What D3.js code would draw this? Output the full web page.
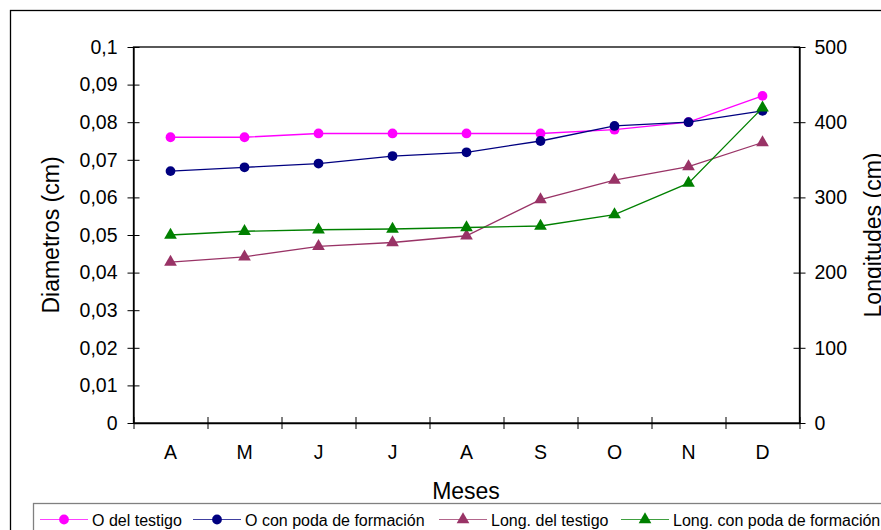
<!DOCTYPE html>
<html>
<head>
<meta charset="utf-8">
<script src="https://cdn.jsdelivr.net/npm/d3@7"></script>
<style>
  body { margin: 0; background: #fff; }
  svg { display: block; font-family: "Liberation Sans", Arial, sans-serif; }
</style>
</head>
<body>
<svg id="chart" width="881" height="530"></svg>
<script>
// Months (April to December)
const months = ["A", "M", "J", "J", "A", "S", "O", "N", "D"];

// Diameters (cm), left axis
const diamTestigo = [0.076, 0.076, 0.077, 0.077, 0.077, 0.077, 0.078, 0.080, 0.087];
const diamPoda    = [0.067, 0.068, 0.069, 0.071, 0.072, 0.075, 0.079, 0.080, 0.083];

// Lengths (cm), right axis
const longTestigo = [214, 221, 235, 240, 249, 297, 323, 341, 373];
const longPoda    = [250, 255, 257, 258, 260, 262, 277, 319, 419];

// Tick values
const diamTicks = [0, 0.01, 0.02, 0.03, 0.04, 0.05, 0.06, 0.07, 0.08, 0.09, 0.1];
const longTicks = [0, 100, 200, 300, 400, 500];

const seriesNames = ["O del testigo", "O con poda de formación", "Long. del testigo", "Long. con poda de formación"];
const seriesColors = ["#FF00FF", "#000080", "#993366", "#008000"];

const svg = d3.select("#chart");
const plot = { left: 133.5, right: 799.5, top: 47, bottom: 423 };

const x = d3.scaleBand().domain(d3.range(months.length)).range([plot.left, plot.right]);
const xEdge = d3.scaleLinear().domain([0, months.length]).range([plot.left, plot.right]);
const yL = d3.scaleLinear().domain([0, 0.1]).range([plot.bottom, plot.top]);
const yR = d3.scaleLinear().domain([0, 500]).range([plot.bottom, plot.top]);

// Outer chart frame
svg.append("rect")
  .attr("x", 10.5).attr("y", 10.5)
  .attr("width", 900).attr("height", 600)
  .attr("fill", "none").attr("stroke", "#000").attr("stroke-width", 1.3);

// Plot frame
svg.append("rect")
  .attr("x", plot.left).attr("y", plot.top)
  .attr("width", plot.right - plot.left).attr("height", plot.bottom - plot.top)
  .attr("fill", "none").attr("stroke", "#000").attr("stroke-width", 1.3);

const fmtComma = d => d3.format(".2~f")(d).replace(".", ",");

// Left axis
const gL = svg.append("g")
  .attr("transform", `translate(${plot.left},0)`)
  .call(d3.axisLeft(yL).tickValues(diamTicks).tickFormat(fmtComma).tickSize(6).tickSizeOuter(0).tickPadding(10));
gL.selectAll(".tick line").attr("x1", 6);

// Right axis
const gR = svg.append("g")
  .attr("transform", `translate(${plot.right},0)`)
  .call(d3.axisRight(yR).tickValues(longTicks).tickSize(6).tickSizeOuter(0).tickPadding(9));
gR.selectAll(".tick line").attr("x1", -6);

// Bottom axis: tick marks at category edges, labels at category centres
const gBt = svg.append("g")
  .attr("transform", `translate(0,${plot.bottom})`)
  .call(d3.axisBottom(xEdge).tickValues(d3.range(months.length + 1)).tickFormat("").tickSize(6).tickSizeOuter(0));
gBt.selectAll(".tick line").attr("y1", -6);

const gB = svg.append("g")
  .attr("transform", `translate(0,${plot.bottom})`)
  .call(d3.axisBottom(x).tickFormat(i => months[i]).tickSize(0).tickPadding(22));
gB.select(".domain").remove();

[gL, gR, gBt, gB].forEach(g => {
  g.selectAll(".domain").attr("stroke", "#000").attr("stroke-width", 1.3);
  g.selectAll(".tick line").attr("stroke", "#000");
  g.selectAll("text").attr("font-size", 19.5).attr("fill", "#000")
    .attr("font-family", "'Liberation Sans', Arial, sans-serif");
});

// Axis titles
svg.append("text")
  .attr("transform", `translate(59,235) rotate(-90)`)
  .attr("text-anchor", "middle").attr("font-size", 23).text("Diametros (cm)");
svg.append("text")
  .attr("transform", `translate(881,235) rotate(-90)`)
  .attr("text-anchor", "middle").attr("font-size", 23).text("Longitudes (cm)");
svg.append("text")
  .attr("x", 466).attr("y", 499)
  .attr("text-anchor", "middle").attr("font-size", 23).text("Meses");

// Series
const series = [
  { values: diamTestigo, y: yL, shape: "circle" },
  { values: diamPoda,    y: yL, shape: "circle" },
  { values: longTestigo, y: yR, shape: "triangle" },
  { values: longPoda,    y: yR, shape: "triangle" }
];

const circleSym = d3.symbol().type(d3.symbolCircle).size(75);
const triSym = d3.symbol().type(d3.symbolTriangle).size(70);

series.forEach((s, k) => {
  const line = d3.line().x((d, i) => x(i) + x.bandwidth() / 2).y(d => s.y(d));
  svg.append("path").datum(s.values)
    .attr("d", line).attr("fill", "none")
    .attr("stroke", seriesColors[k]).attr("stroke-width", 1.3);
  svg.append("g").selectAll("path").data(s.values).join("path")
    .attr("transform", (d, i) => `translate(${x(i) + x.bandwidth() / 2},${s.y(d)})`)
    .attr("d", s.shape === "circle" ? circleSym : triSym)
    .attr("fill", seriesColors[k]);
});

// Legend
const legend = svg.append("g");
legend.append("rect")
  .attr("x", 33.5).attr("y", 503.5).attr("width", 900).attr("height", 60)
  .attr("fill", "#fff").attr("stroke", "#808080").attr("stroke-width", 1.3);
const legendX = [40, 193, 439, 621];
seriesNames.forEach((name, k) => {
  const g = legend.append("g").attr("transform", `translate(${legendX[k]},519.5)`);
  g.append("line").attr("x1", 0).attr("x2", 48).attr("stroke", seriesColors[k])
    .attr("stroke-width", 1.2).attr("stroke-opacity", 0.75);
  g.append("path").attr("transform", "translate(24,0)")
    .attr("d", series[k].shape === "circle" ? circleSym : triSym)
    .attr("fill", seriesColors[k]);
  g.append("text").attr("x", 52).attr("y", 6)
    .attr("font-size", 16).attr("fill", "#000").text(name);
});
</script>
</body>
</html>
